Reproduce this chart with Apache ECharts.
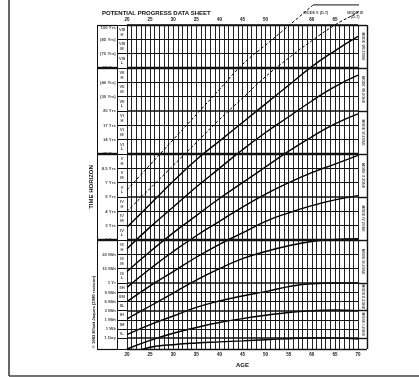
<!DOCTYPE html>
<html>
<head>
<meta charset="utf-8">
<title>Potential Progress Data Sheet</title>
<script src="https://cdn.jsdelivr.net/npm/echarts@6/dist/echarts.min.js"></script>
</head>
<body style="margin:0;background:#fff">
<div id="main" style="width:419px;height:377px"></div>
<script>
// ages read along the x axis
var ages = [20, 25, 30, 35, 40, 45, 50, 55, 60, 65, 70];
// progression curves, y in "band" units (one H/M/L row of strata III..VIII = 1)
var modeVIII = [8.5, 10.1, 11.7, 13.2, 14.5, 15.8, 17.1, 18.4, 19.7, 20.8, 21.8];
var modeVII  = [7.0, 8.5, 9.9, 11.3, 12.6, 13.9, 15.1, 16.2, 17.3, 18.3, 19.1];
var modeVI   = [5.4, 6.8, 8.1, 9.3, 10.5, 11.6, 12.7, 13.8, 14.8, 15.7, 16.4];
var modeV    = [4.3, 5.6, 6.8, 7.9, 8.9, 9.9, 10.8, 11.6, 12.3, 12.9, 13.5];
var modeIV   = [3.3, 4.4, 5.4, 6.4, 7.3, 8.1, 8.9, 9.5, 10.0, 10.4, 10.7];
var modeIII  = [2.1, 3.0, 3.9, 4.8, 5.6, 6.3, 6.8, 7.2, 7.5, 7.65, 7.7];
var modeII   = [1.0, 1.7, 2.3, 2.9, 3.35, 3.7, 4.0, 4.35, 4.55, 4.6, 4.6];
var modeI    = [0, 0.6, 1.1, 1.5, 1.85, 2.12, 2.35, 2.55, 2.67, 2.72, 2.68];
var modeLow  = [-0.45, 0.12, 0.3, 0.42, 0.5, 0.57, 0.65, 0.72, 0.77, 0.76, 0.7];
// dashed curves, running past the top of the sheet
var agesX  = [20, 25, 30, 35, 40, 45, 50, 55, 60.3];
var modeX  = [11.1, 12.85, 14.6, 16.35, 18.1, 19.85, 21.2, 22.55, 24.0];
var agesIX = [20, 25, 30, 35, 40, 45, 50, 55, 60, 65, 70, 72];
var modeIX = [9.6, 11.2, 12.8, 14.4, 16.0, 17.5, 19.0, 20.3, 21.5, 22.6, 23.5, 24.0];
var bracketAges = [60.3, 72, 72];
var bracketVals = [24.0, 24.0, 22.6];

// time horizon lines (band units) and labels
var horizonVals = [22.6, 21.6, 20.6, 19.6, 18.6, 17.6, 16.6, 15.6, 14.6, 13.6, 12.6, 11.6,
                   10.6, 9.6, 8.6, 7.6, 6.6, 5.6, 4.6, 3.95, 3.31, 2.67, 2.03, 1.39, 0.75];
var horizonLabels = ['100 Yrs', '(85 Yrs)', '(70 Yrs)', '50 Yrs', '(40 Yrs)', '(30 Yrs)',
                     '20 Yrs', '17 Yrs', '14 Yrs', '10 Yrs', '8.5 Yrs', '7 Yrs',
                     '5 Yrs', '4 Yrs', '3 Yrs', '2 Yrs', '20 Mth', '15 Mth',
                     '1 Yr', '9 Mth', '6 Mth', '3 Mth', '1 Mth', '1 Wk', '1 Day'];
var strata = ['VIII', 'VII', 'VI', 'V', 'IV', 'III', 'II', 'I'];
var levels = ['H', 'M', 'L'];
var modeNames = ['MODE VIII ZONE', 'MODE VII ZONE', 'MODE VI ZONE', 'MODE V ZONE',
                 'MODE IV ZONE', 'MODE III ZONE', 'MODE II ZONE', 'MODE I ZONE'];

var FONT = 'Liberation Sans';
var INK = '#111';
var YMAX = 22.6;

function pairs(xs, ys) { return xs.map(function (x, i) { return [x, ys[i]]; }); }

var myChart = echarts.init(document.getElementById('main'));

// main grid horizontal lines
var mainLines = horizonVals.map(function (v, j) {
    var w = 1;
    if (j % 3 === 0) w = 1.6;
    if (j === 3 || j === 9 || j === 15) w = 2.4;
    return { yAxis: v, lineStyle: { width: w } };
});

// left columns: stratum cells and heavy lines
var leftLines = [];
horizonVals.concat([0]).forEach(function (v, j) {
    leftLines.push([{ coord: [20, v] }, { coord: [30, v] }]);
    if (j === 0 || j === 3 || j === 9 || j === 15 || j === 25) {
        leftLines.push([{ coord: [0, v], lineStyle: { width: j === 0 || j === 25 ? 1.2 : 2.4 } }, { coord: [20, v] }]);
    }
});
leftLines.push([{ coord: [0, 0] }, { coord: [0, YMAX] }]);
leftLines.push([{ coord: [20, 0] }, { coord: [20, YMAX] }]);

var leftLabels = horizonVals.map(function (v, j) {
    var item = { value: [19.3, v], name: horizonLabels[j] };
    if (j === 0) item.label = { offset: [0, 3] };
    return item;
});

var cellLabels = [];
for (var i = 0; i < 24; i++) {
    var s = strata[Math.floor(i / 3)];
    var txt = Math.floor(i / 3) < 6 ? s + '\n' + levels[i % 3] : s + levels[i % 3];
    cellLabels.push({ value: [25, (horizonVals[i] + horizonVals[i + 1]) / 2], name: txt });
}

// right column boxes follow the strata
var rightEdges = [];
horizonVals.forEach(function (v, j) { if (j % 3 === 0) rightEdges.push(v); });
var rightLines = rightEdges.concat([0]).map(function (v) {
    return [{ coord: [0, v] }, { coord: [1, v] }];
});
rightLines.push([{ coord: [1, 0] }, { coord: [1, YMAX] }]);
var rightLabels = modeNames.map(function (n, k) {
    return { value: [0.5, (rightEdges[k] + rightEdges[k + 1]) / 2], name: n };
});

function modeSeries(name, data) {
    return {
        name: name, type: 'line', xAxisIndex: 0, yAxisIndex: 0,
        data: pairs(ages, data), smooth: 0.5,
        symbol: 'none', lineStyle: { color: '#000', width: 1.4 }, silent: true
    };
}

var hidden = { color: 'rgba(0,0,0,0)' };

myChart.setOption({
    animation: false,
    title: {
        text: 'POTENTIAL PROGRESS DATA SHEET', left: 97, top: 5,
        textStyle: { fontFamily: FONT, fontSize: 6, fontWeight: 'bold', color: INK }
    },
    grid: [
        { left: 127, top: 25, width: 231, height: 324 },
        { left: 97, top: 25, width: 30, height: 324 },
        { left: 358, top: 25, width: 9, height: 324 }
    ],
    xAxis: [
        {
            gridIndex: 0, type: 'value', min: 20, max: 70, interval: 1, position: 'bottom',
            axisLine: { show: true, lineStyle: { color: INK, width: 1.4 } },
            axisTick: { show: false },
            splitLine: { show: true, lineStyle: { color: '#222', width: 1 } },
            axisLabel: {
                margin: 3, fontSize: 4.5, fontWeight: 'bold', color: INK, fontFamily: FONT,
                formatter: function (v) { return v % 5 === 0 ? String(v) : ''; }
            },
            name: 'AGE', nameLocation: 'middle', nameGap: 8,
            nameTextStyle: { fontFamily: FONT, fontSize: 6, fontWeight: 'bold', color: INK }
        },
        {
            gridIndex: 0, type: 'value', min: 20, max: 70, interval: 1, position: 'top',
            axisLine: { show: true, lineStyle: { color: INK, width: 1.4 } },
            axisTick: { show: false }, splitLine: { show: false },
            axisLabel: {
                margin: 3, fontSize: 4.5, fontWeight: 'bold', color: INK, fontFamily: FONT,
                formatter: function (v) { return v % 5 === 0 && v !== 55 && v !== 70 ? String(v) : ''; }
            }
        },
        { gridIndex: 1, type: 'value', min: 0, max: 30, show: false },
        { gridIndex: 2, type: 'value', min: 0, max: 1, show: false }
    ],
    yAxis: [
        { gridIndex: 0, type: 'value', min: 0, max: YMAX, show: false },
        {
            gridIndex: 1, type: 'value', min: 0, max: YMAX,
            axisLine: { show: false }, axisTick: { show: false },
            axisLabel: { show: false }, splitLine: { show: false },
            name: 'TIME HORIZON', nameLocation: 'middle', nameGap: 3, nameRotate: 90,
            nameTextStyle: { fontFamily: FONT, fontSize: 6, fontWeight: 'bold', color: INK }
        },
        { gridIndex: 2, type: 'value', min: 0, max: YMAX, show: false }
    ],
    graphic: [
        { type: 'line', shape: { x1: 9, y1: 0, x2: 9, y2: 376 }, style: { stroke: '#333', lineWidth: 1.5 } },
        { type: 'line', shape: { x1: 9, y1: 376, x2: 419, y2: 376 }, style: { stroke: '#444', lineWidth: 1.5 } },
        {
            type: 'text', x: 94, y: 312, rotation: Math.PI / 2,
            style: {
                text: '\u00a9 1983 Elliott Jaques (1990 revision)', fill: INK,
                font: 'bold 4.2px "Liberation Sans"', align: 'center', verticalAlign: 'middle'
            }
        }
    ],
    series: [
        modeSeries('Mode VIII', modeVIII),
        modeSeries('Mode VII', modeVII),
        modeSeries('Mode VI', modeVI),
        modeSeries('Mode V', modeV),
        modeSeries('Mode IV', modeIV),
        modeSeries('Mode III', modeIII),
        modeSeries('Mode II', modeII),
        modeSeries('Mode I', modeI),
        modeSeries('Mode 0', modeLow),
        {
            name: 'Mode X', type: 'line', data: pairs(agesX, modeX), smooth: 0.5, clip: false,
            symbol: 'none', lineStyle: { color: '#000', width: 1, type: [3, 2] }, silent: true
        },
        {
            name: 'Mode IX', type: 'line', data: pairs(agesIX, modeIX), smooth: 0.5, clip: false,
            symbol: 'none', lineStyle: { color: '#000', width: 1, type: [3, 2] }, silent: true
        },
        {
            name: 'bracket', type: 'line', data: pairs(bracketAges, bracketVals), clip: false,
            symbol: 'none', lineStyle: { color: INK, width: 1 }, silent: true
        },
        {
            name: 'mode labels', type: 'scatter', clip: false, symbolSize: 1, itemStyle: hidden,
            data: [
                { value: [60.9, 23.45], name: 'MODE X (D-7)' },
                { value: [69.4, 23.3], name: 'MODE IX\n(D-7)' }
            ],
            label: {
                show: true, position: 'inside', formatter: '{b}', fontFamily: FONT,
                fontSize: 3.8, lineHeight: 4.2, fontWeight: 'bold', color: INK
            },
            markLine: {
                silent: true, symbol: ['none', 'none'], label: { show: false },
                lineStyle: { color: INK, type: 'solid' }, data: mainLines
            }
        },
        {
            name: 'horizon labels', type: 'scatter', xAxisIndex: 2, yAxisIndex: 1,
            symbolSize: 1, itemStyle: hidden, data: leftLabels,
            label: {
                show: true, position: 'left', distance: 0, formatter: '{b}', fontFamily: FONT,
                fontSize: 4.3, fontWeight: 'bold', color: INK
            },
            markLine: {
                silent: true, symbol: ['none', 'none'], label: { show: false },
                lineStyle: { color: INK, type: 'solid', width: 1 }, data: leftLines
            }
        },
        {
            name: 'strata', type: 'scatter', xAxisIndex: 2, yAxisIndex: 1,
            symbolSize: 1, itemStyle: hidden, data: cellLabels,
            label: {
                show: true, position: 'inside', formatter: '{b}', fontFamily: FONT,
                fontSize: 4, lineHeight: 4.6, fontWeight: 'bold', color: INK
            }
        },
        {
            name: 'zones', type: 'scatter', xAxisIndex: 3, yAxisIndex: 2,
            symbolSize: 1, itemStyle: hidden, data: rightLabels,
            label: {
                show: true, position: 'inside', rotate: -90, formatter: '{b}', fontFamily: FONT,
                fontSize: 3.6, fontWeight: 'bold', color: INK
            },
            markLine: {
                silent: true, symbol: ['none', 'none'], label: { show: false },
                lineStyle: { color: INK, type: 'solid', width: 1.4 }, data: rightLines
            }
        }
    ]
});
</script>
</body>
</html>
